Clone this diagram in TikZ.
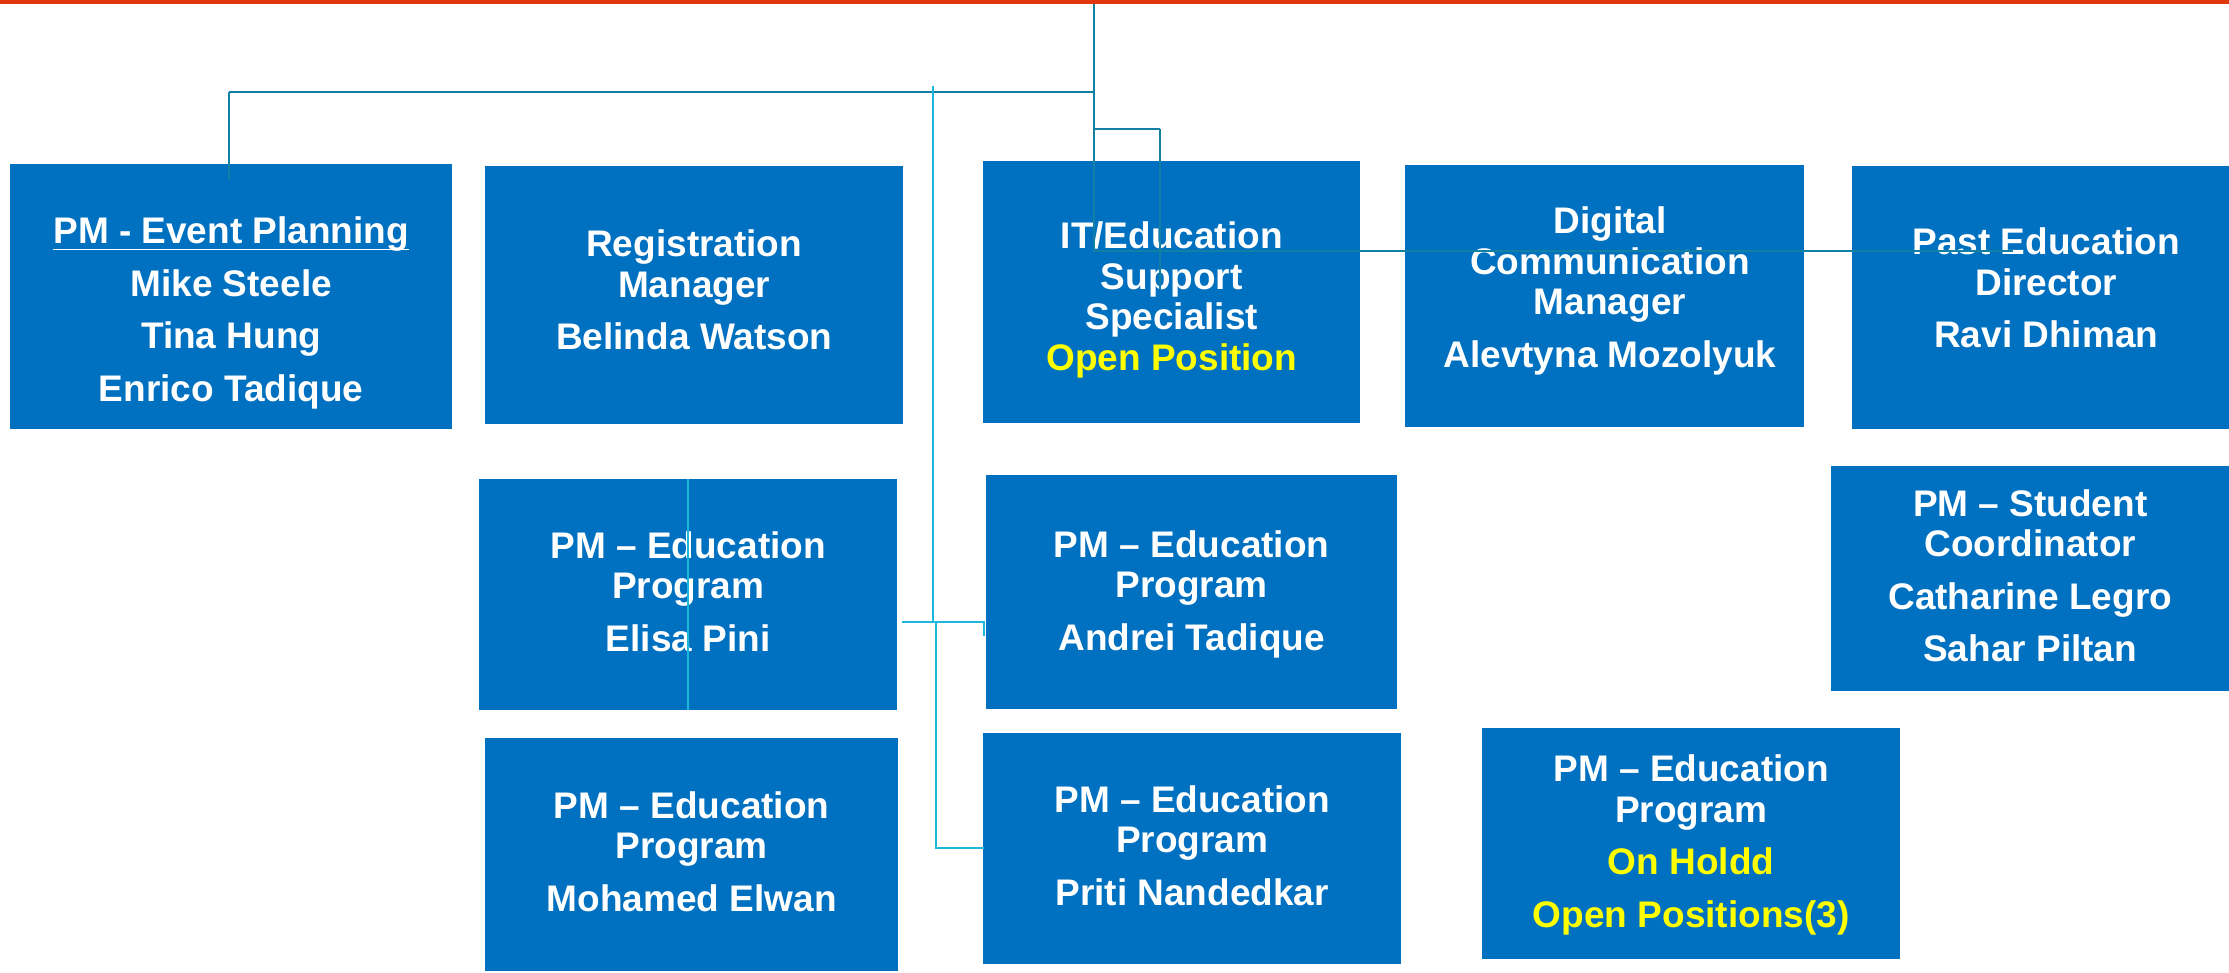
\documentclass[tikz,border=0pt]{standalone}
\usepackage{fontspec}
\setmainfont{Liberation Sans}
\usetikzlibrary{calc}
\definecolor{boxblue}{RGB}{0,112,192}
\definecolor{tealline}{RGB}{18,128,162}
\definecolor{cyanline}{RGB}{28,184,220}
\definecolor{topred}{RGB}{224,56,12}
\definecolor{openyellow}{RGB}{255,255,0}
\newcommand\myuline[1]{\setbox0\hbox{#1}\dp0=0pt\vtop{\box0\kern5pt\hrule height1.6pt}}
\begin{document}
\begin{tikzpicture}[x=1pt,y=-1pt,
  box/.style={fill=boxblue, draw=none, inner sep=0pt, anchor=north west, rectangle},
  txt/.style={text=white, inner sep=0pt, align=center, font=\fontsize{37}{40.5}\selectfont\bfseries},
  tline/.style={draw=tealline, line width=1.5pt},
  tthick/.style={draw=tealline, line width=2.2pt},
  cline/.style={draw=cyanline, line width=2pt}]
\useasboundingbox (0,0) rectangle (2229,973);
\fill[topred] (0,0) rectangle (2229,4);
% boxes
\node[box, minimum width=442pt, minimum height=265pt] (b1) at (10,164) {};
\node[box, minimum width=418pt, minimum height=258pt] (b2) at (485,166) {};
\node[box, minimum width=377pt, minimum height=262pt] (b3) at (983,161) {};
\node[box, minimum width=399pt, minimum height=262pt] (b4) at (1405,165) {};
\node[box, minimum width=388pt, minimum height=263pt] (b5) at (1852,166) {};
\node[box, minimum width=418pt, minimum height=231pt] (b6) at (479,479) {};
\node[box, minimum width=413pt, minimum height=233pt] (b7) at (485,738) {};
\node[box, minimum width=411pt, minimum height=234pt] (b8) at (986,475) {};
\node[box, minimum width=418pt, minimum height=231pt] (b9) at (983,733) {};
\node[box, minimum width=418pt, minimum height=231pt] (b10) at (1482,728) {};
\node[box, minimum width=398pt, minimum height=225pt] (b11) at (1831,466) {};
% texts
\node[txt] (t1) at (b1.center |- 0,313) {\myuline{PM - Event Planning}\\[12pt]Mike Steele\\[12pt]Tina Hung\\[12pt]Enrico Tadique};
\node[txt] (t2) at (b2.center |- 0,290) {Registration\\Manager\\[12pt]Belinda Watson};
\node[txt] (t3) at (b3.center |- 0,300) {IT/Education\\Support\\Specialist\\\textcolor{openyellow}{Open Position}};
\node[txt] (t4) at (1610,291) {Digital\\Communication\\Manager\\[12pt]Alevtyna Mozolyuk};
\node[txt] (t5) at (b5.center |- 0,288) {Past Education\\Director\\[12pt]Ravi Dhiman};
\node[txt] (t6) at (b6.center |- 0,591.5) {PM -- Education\\Program\\[12pt]Elisa Pini};
\node[txt] (t7) at (b7.center |- 0,851.5) {PM -- Education\\Program\\[12pt]Mohamed Elwan};
\node[txt] (t8) at (b8.center |- 0,594) {PM -- Education\\Program\\[12pt]Andrei Tadique};
\node[txt] (t9) at (b9.center |- 0,845.5) {PM -- Education\\Program\\[12pt]Priti Nandedkar};
\node[txt] (t10) at (b10.center |- 0,845) {PM -- Education\\Program\\[12pt]\textcolor{openyellow}{On Holdd}\\[12pt]\textcolor{openyellow}{Open Positions(3)}};
\node[txt] (t11) at (b11.center |- 0,576) {PM -- Student\\Coordinator\\[12pt]Catharine Legro\\[12pt]Sahar Piltan};
% connector points
\coordinate (top) at (1094,4);
\coordinate (ja) at (1094,92);
\coordinate (jb) at (1094,129);
\coordinate (jc) at (1094,251);
\coordinate (la) at (229,92);
\coordinate (lb) at (229,180);
\coordinate (ba) at (1160,129);
\coordinate (bb) at (1160,290);
\coordinate (re) at (2013,251);
\coordinate (ca) at (933,86);
\coordinate (cb) at (933,622);
\coordinate (cc) at (902,622);
\coordinate (cd) at (984,622);
\coordinate (ce) at (984,636);
\coordinate (cf) at (936,622);
\coordinate (cg) at (936,848);
\coordinate (ch) at (984,848);
\coordinate (ea) at (688,479);
\coordinate (eb) at (688,710);
% connectors
\draw[tline] (top) -- (jc) -- (re);
\draw[tthick] (la) -- (ja);
\draw[tline] (la) -- (lb);
\draw[tthick] (jb) -- (ba);
\draw[tline] (ba) -- (bb);
\draw[cline] (ca) -- (cb) -- (cc);
\draw[cline] (cb) -- (cd) -- (ce);
\draw[cline] (cf) -- (cg) -- (ch);
\draw[cline] (ea) -- (eb);
\end{tikzpicture}
\end{document}
